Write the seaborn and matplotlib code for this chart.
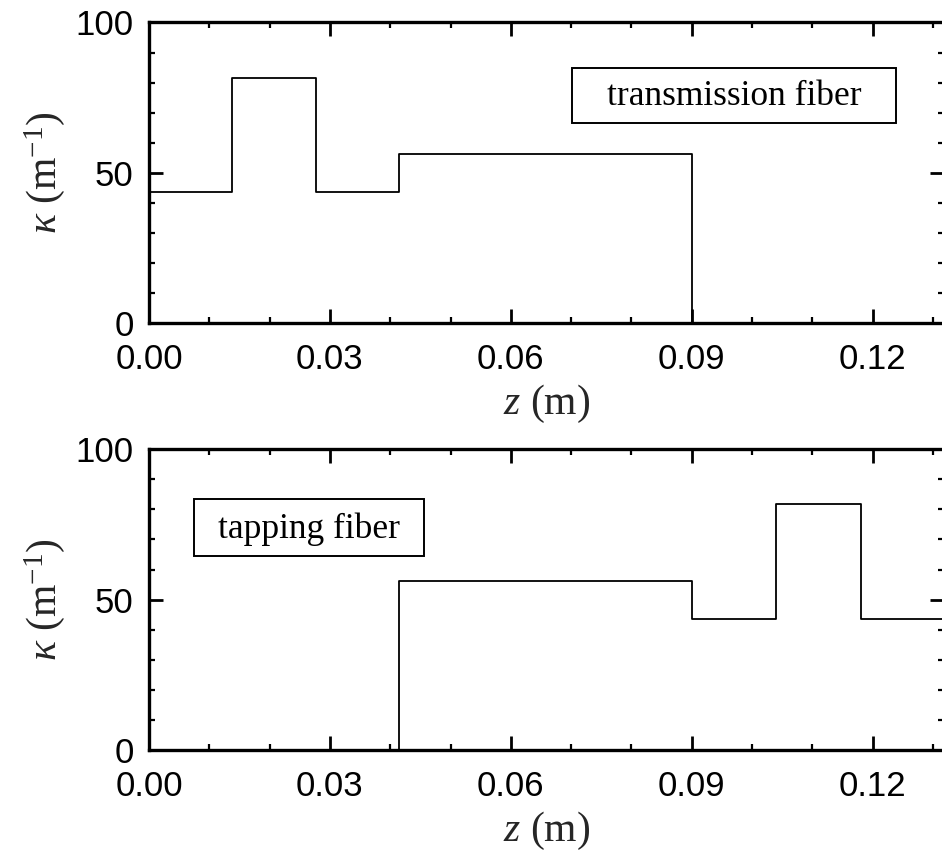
import matplotlib
matplotlib.use("Agg")
import matplotlib.pyplot as plt
from matplotlib.ticker import MultipleLocator, FormatStrFormatter
import seaborn as sns
import pandas as pd

# Coupling-coefficient profiles along the coupler (segment edges in m, kappa in 1/m)
z_edges_transmission = [0.0, 0.0138, 0.0277, 0.0415, 0.0900, 0.1318]
kappa_transmission = [43.5, 81.7, 43.5, 56.3, 0.0]

z_edges_tapping = [0.0, 0.0415, 0.0900, 0.1040, 0.1180, 0.1318]
kappa_tapping = [0.0, 56.3, 43.5, 81.7, 43.5]

panel_labels = ["transmission fiber", "tapping fiber"]
x_ticks = [0.00, 0.03, 0.06, 0.09, 0.12]
y_ticks = [0, 50, 100]

sns.set_theme(style="white")
plt.rcParams["font.family"] = ["Liberation Sans", "DejaVu Sans"]
plt.rcParams["mathtext.fontset"] = "custom"
plt.rcParams["mathtext.rm"] = "Liberation Serif"
plt.rcParams["mathtext.it"] = "Liberation Serif:italic"

fig = plt.figure(figsize=(9.42, 8.55), dpi=100)
ax_top = fig.add_axes([0.1582, 0.6219, 0.8437, 0.3518])
ax_bot = fig.add_axes([0.1582, 0.1224, 0.8437, 0.3524])


def step_frame(edges, values):
    return pd.DataFrame({"z": edges, "kappa": list(values) + [values[-1]]})


def style_axis(ax):
    ax.set_xlim(0, 0.1318)
    ax.set_ylim(0, 100)
    ax.set_xticks(x_ticks)
    ax.set_yticks(y_ticks)
    ax.xaxis.set_major_formatter(FormatStrFormatter("%.2f"))
    ax.xaxis.set_minor_locator(MultipleLocator(0.01))
    ax.yaxis.set_minor_locator(MultipleLocator(10))
    ax.tick_params(which="both", direction="in", top=True, right=True,
                   bottom=True, left=True, colors="black")
    ax.tick_params(which="major", length=10, width=2.0, labelsize=25)
    ax.tick_params(axis="x", which="major", pad=14)
    ax.tick_params(axis="y", which="major", pad=11)
    ax.tick_params(which="minor", length=4.5, width=1.6)
    for s in ax.spines.values():
        s.set_linewidth(2.4)
        s.set_color("black")
        s.set_zorder(5)
    ax.set_xlabel(r"$z$ (m)", fontsize=30, family="Liberation Serif", labelpad=5)
    ax.set_ylabel(r"$\kappa$ (m$^{-1}$)", fontsize=30,
                  family="Liberation Serif", labelpad=6)
    ax.grid(False)


def label_box(ax, text, x0, y0, x1, y1):
    ax.add_patch(plt.Rectangle((x0, y0), x1 - x0, y1 - y0, transform=ax.transAxes,
                               fill=False, edgecolor="black", linewidth=1.4, zorder=4))
    ax.text((x0 + x1) / 2, (y0 + y1) / 2 - 0.005, text, transform=ax.transAxes,
            ha="center", va="center", fontsize=25.5, family="Liberation Serif",
            color="black", zorder=4)


sns.lineplot(data=step_frame(z_edges_transmission, kappa_transmission), x="z", y="kappa",
             ax=ax_top, color="black", linewidth=1.3, drawstyle="steps-post",
             sort=False, estimator=None)
sns.lineplot(data=step_frame(z_edges_tapping, kappa_tapping), x="z", y="kappa",
             ax=ax_bot, color="black", linewidth=1.3, drawstyle="steps-post",
             sort=False, estimator=None)

style_axis(ax_top)
style_axis(ax_bot)

label_box(ax_top, panel_labels[0], 0.532, 0.665, 0.940, 0.850)
label_box(ax_bot, panel_labels[1], 0.0566, 0.645, 0.346, 0.833)

fig.savefig("out.png", dpi=100)
